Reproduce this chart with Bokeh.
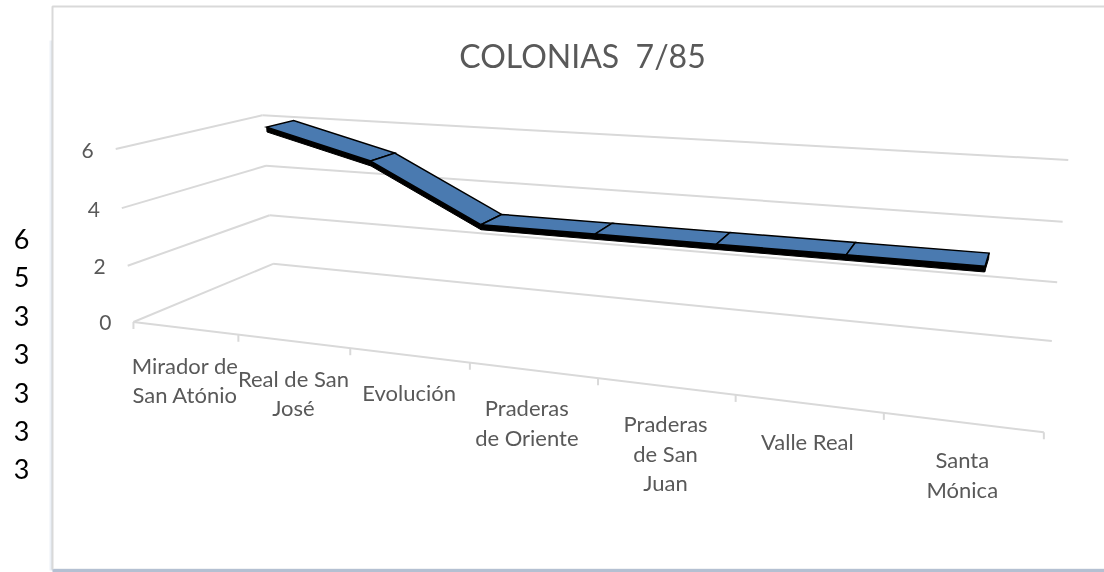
import numpy as np
from bokeh.embed import file_html
from bokeh.resources import INLINE
from bokeh.plotting import figure
from bokeh.models import Range1d
from bokeh.core.properties import value

# ---- data ----
title_text = "COLONIAS \u00a07/85"
categories = ["Mirador de\nSan Atónio", "Real de San\nJosé", "Evolución", "Praderas\nde Oriente",
              "Praderas\nde San\nJuan", "Valle Real", "Santa\nMónica"]
values = [6, 5, 3, 3, 3, 3, 3]
y_levels = [0, 2, 4, 6]
side_numbers = ["6", "5", "3", "3", "3", "3", "3"]

W, H = 1104, 572
GRID = "#d9d9d9"
TEXT = "#595959"
BLUE = "#4a7ab0"
FONT = "Lato"

# ---- camera: (category position, depth, value) -> page position ----
calib = [
    (0, 0, 0, 133, 321), (1, 0, 0, 238, 334), (2, 0, 0, 350, 347.5), (3, 0, 0, 470, 362),
    (4, 0, 0, 598, 378), (5, 0, 0, 735, 395), (6, 0, 0, 883, 413), (7, 0, 0, 1043, 432),
    (0, 1, 0, 272, 263), (7, 1, 0, 1052, 340),
    (0, 0, 2, 127, 265), (0, 0, 4, 121, 207), (0, 0, 6, 115, 149),
    (0, 1, 2, 269, 215), (0, 1, 4, 266, 166), (0, 1, 6, 262, 115),
    (7, 1, 2, 1056, 282), (7, 1, 4, 1062, 222), (7, 1, 6, 1068, 158),
]
A = []
for t, d, v, x, y in calib:
    A.append([t, d, v, 1, 0, 0, 0, 0, -x * t, -x * d, -x * v, -x])
    A.append([0, 0, 0, 0, t, d, v, 1, -y * t, -y * d, -y * v, -y])
P = np.linalg.svd(np.array(A, float))[2][-1].reshape(3, 4)


def proj(t, d, v):
    q = P @ np.array([t, d, v, 1.0])
    return q[0] / q[2], q[1] / q[2]


p = figure(width=W, height=H, x_range=Range1d(0, W), y_range=Range1d(H, 0),
           toolbar_location=None, output_backend="svg", min_border=0,
           x_axis_type=None, y_axis_type=None, outline_line_color=None)
p.grid.visible = False
p.styles = {"position": "fixed", "left": "0", "top": "0"}

# ---- chart frame with its soft shadow ----
for i, a in enumerate([0.12, 0.25, 0.45, 0.7]):
    p.line([49 + i, 49 + i], [40, 570], line_color="#b9c9de", line_width=1, line_alpha=a)
p.line([53, W], [568.5, 568.5], line_color="#e3e6ea", line_width=1)
p.line([52, W], [570, 570], line_color="#b4c0d2", line_width=3)
p.line([52, 52, W], [569, 6, 6], line_color=GRID, line_width=2)


def seg(a, b, **kw):
    xa, ya = proj(*a)
    xb, yb = proj(*b)
    p.line([xa, xb], [ya, yb], **kw)


n = len(categories)
gl = dict(line_color=GRID, line_width=2)
for lv in y_levels:
    seg((0, 0, lv), (0, 1, lv), **gl)
    seg((0, 1, lv), (n, 1, lv), **gl)
seg((0, 0, 0), (n, 0, 0), **gl)
for t in range(n + 1):
    x0, y0 = proj(t, 0, 0)
    p.line([x0, x0], [y0, y0 + 7], **gl)

# ---- ribbon ----
D0, D1 = 0.66, 0.87
LIFT = 0.05
THICK = 0.18
ts = [i + 0.5 for i in range(n)]
lifted = [v + LIFT for v in values]
for i in range(n - 1):
    a, b = (ts[i], lifted[i]), (ts[i + 1], lifted[i + 1])
    corners = [proj(a[0], D0, a[1]), proj(b[0], D0, b[1]),
               proj(b[0], D0, b[1] - THICK), proj(a[0], D0, a[1] - THICK)]
    p.patch([c[0] for c in corners], [c[1] for c in corners], fill_color="black", line_color="black", line_width=1)
end = [proj(ts[-1], D0, lifted[-1]), proj(ts[-1], D1, lifted[-1]),
       proj(ts[-1], D1, lifted[-1] - THICK), proj(ts[-1], D0, lifted[-1] - THICK)]
p.patch([c[0] for c in end], [c[1] for c in end], fill_color="black", line_color="black", line_width=1)
for i in range(n - 1):
    a, b = (ts[i], lifted[i]), (ts[i + 1], lifted[i + 1])
    corners = [proj(a[0], D0, a[1]), proj(b[0], D0, b[1]), proj(b[0], D1, b[1]), proj(a[0], D1, a[1])]
    p.patch([c[0] for c in corners], [c[1] for c in corners], fill_color=BLUE, line_color="black",
            line_width=1.5, line_join="miter")

# ---- texts ----
p.text([582], [55], text=[title_text], text_font=value(FONT), text_font_size="32px", text_color=TEXT,
       text_align="center", text_baseline="middle")
for lv in y_levels:
    x0, y0 = proj(0, 0, lv)
    p.text([x0 - 28], [y0 + 1], text=[str(lv)], text_font=value(FONT), text_font_size="21px", text_color=TEXT,
           text_align="center", text_baseline="middle")
label_nudge = [0, 0, 0, -6, 0, -1, 0]
for t, c, dx in zip(ts, categories, label_nudge):
    x0, y0 = proj(t, 0, 0)
    p.text([x0 + dx], [y0 + 24], text=[c], text_font=value(FONT), text_font_size="22px", text_color=TEXT,
           text_align="center", text_baseline="top", text_line_height=1.08)
for i, s in enumerate(side_numbers):
    p.text([21], [238.5 + i * 38.4], text=[s], text_font=value(FONT), text_font_size="27px", text_color="black",
           text_align="center", text_baseline="middle")

open("out.html", "w").write(file_html(p, INLINE))
